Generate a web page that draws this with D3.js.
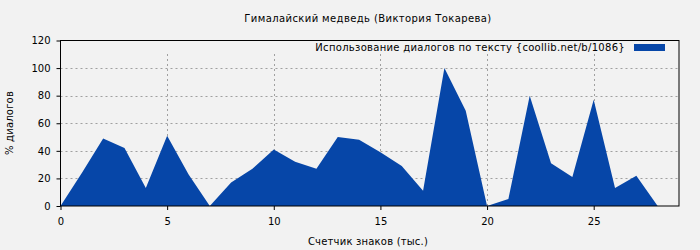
<!DOCTYPE html>
<html>
<head>
<meta charset="utf-8">
<script src="https://cdn.jsdelivr.net/npm/d3@7"></script>
<style>
  body { margin: 0; background: #f2f2f2; }
  svg { display: block; font-family: 'DejaVu Sans', sans-serif; }
</style>
</head>
<body>
<script>
// data
const title = 'Гималайский медведь (Виктория Токарева)'
const seriesName = 'Использование диалогов по тексту {coollib.net/b/1086}'
const xLabel = 'Счетчик знаков (тыс.)'
const yLabel = '% диалогов'
const positions = [0, 1, 2, 3, 4, 5, 6, 7, 8, 9, 10, 11, 12, 13, 14, 15, 16, 17, 18, 19, 20, 21, 22, 23, 24, 25, 26, 27, 28]
const values = [0, 24, 49, 42, 13, 51, 23, 0, 17, 27, 41, 32, 27, 50, 48, 39, 29, 11, 100, 69, 0, 5, 80, 31, 21, 77, 13, 22, 0]
const xTicks = [0, 5, 10, 15, 20, 25]
const yTicks = [0, 20, 40, 60, 80, 100, 120]

const width = 700
const height = 250
const margin = { left: 60.5, right: 21, top: 40.5, bottom: 44 }

const xScale = d3.scaleLinear()
  .domain([0, 29])
  .range([margin.left, width - margin.right])

const yScale = d3.scaleLinear()
  .domain([0, 120])
  .range([height - margin.bottom, margin.top])

let svg = d3.select('body')
  .append('svg')
  .attr('width', width)
  .attr('height', height)

svg.append('rect')
  .attr('width', width)
  .attr('height', height)
  .attr('fill', '#f2f2f2')

//grid
svg.append('g')
  .selectAll('line')
  .data(yTicks.filter(d => d > 0 && d < 120))
  .enter()
  .append('line')
  .attr('x1', xScale(0))
  .attr('x2', xScale(29))
  .attr('y1', d => Math.round(yScale(d)) + 0.5)
  .attr('y2', d => Math.round(yScale(d)) + 0.5)
  .attr('stroke', '#a0a0a0')
  .attr('stroke-dasharray', '2,3')

svg.append('g')
  .selectAll('line')
  .data(xTicks.filter(d => d > 0))
  .enter()
  .append('line')
  .attr('x1', d => Math.round(xScale(d)) + 0.5)
  .attr('x2', d => Math.round(xScale(d)) + 0.5)
  .attr('y1', yScale(0))
  .attr('y2', 53)
  .attr('stroke', '#a0a0a0')
  .attr('stroke-dasharray', '2,3')

//area
const area = d3.area()
  .x((d, i) => xScale(positions[i]))
  .y0(yScale(0))
  .y1(d => yScale(d))

svg.append('path')
  .datum(values)
  .attr('d', area)
  .attr('fill', '#0646a8')

//border
svg.append('rect')
  .attr('x', xScale(0))
  .attr('y', yScale(120))
  .attr('width', xScale(29) - xScale(0))
  .attr('height', yScale(0) - yScale(120))
  .attr('fill', 'none')
  .attr('stroke', 'black')
  .attr('stroke-width', 1)

//axes
const xAxis = d3.axisBottom(xScale).tickValues(xTicks).tickSize(4).tickPadding(8)
const yAxis = d3.axisLeft(yScale).tickValues(yTicks).tickSize(4).tickPadding(6)

const gx = svg.append('g')
  .attr('transform', 'translate(0,' + yScale(0) + ')')
  .call(xAxis)
gx.select('.domain').remove()

const gy = svg.append('g')
  .attr('transform', 'translate(' + xScale(0) + ',0)')
  .call(yAxis)
gy.select('.domain').remove()

svg.selectAll('.tick text')
  .attr('font-size', '10px')
  .attr('font-family', 'DejaVu Sans')
  .attr('fill', 'black')

//titles
svg.append('text')
  .attr('x', 368)
  .attr('y', 22)
  .attr('text-anchor', 'middle')
  .attr('font-size', '10px')
  .attr('letter-spacing', '0.4px')
  .text(title)

svg.append('text')
  .attr('x', 368)
  .attr('y', 245)
  .attr('text-anchor', 'middle')
  .attr('font-size', '10px')
  .attr('letter-spacing', '0.2px')
  .text(xLabel)

svg.append('text')
  .attr('x', -123)
  .attr('y', 13)
  .attr('transform', 'rotate(-90)')
  .attr('text-anchor', 'middle')
  .attr('font-size', '10px')
  .attr('letter-spacing', '0.2px')
  .text(yLabel)

//legend
svg.append('text')
  .attr('x', 625)
  .attr('y', 51)
  .attr('text-anchor', 'end')
  .attr('font-size', '10px')
  .attr('letter-spacing', '0.3px')
  .text(seriesName)

svg.append('rect')
  .attr('x', 634)
  .attr('y', 44)
  .attr('width', 31)
  .attr('height', 7)
  .attr('fill', '#0646a8')
</script>
</body>
</html>
